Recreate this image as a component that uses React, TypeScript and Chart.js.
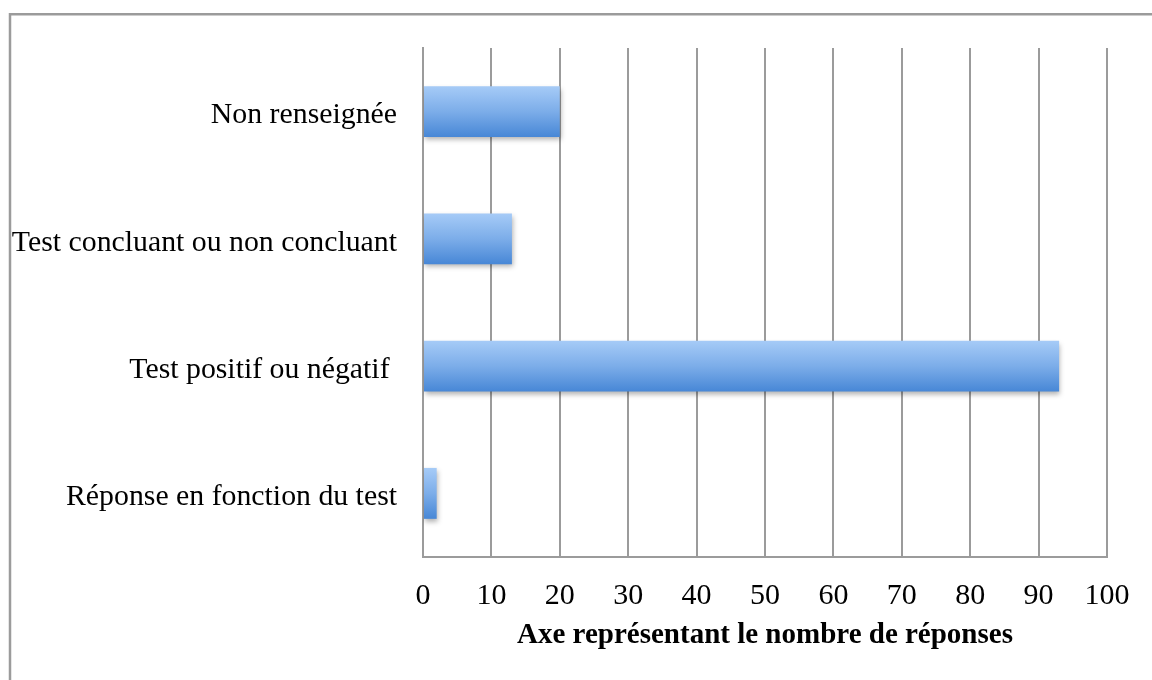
import React, { useEffect, useRef } from "react";
import { Chart, registerables } from "chart.js";

Chart.register(...registerables);

const categories = [
  "Non renseignée",
  "Test concluant ou non concluant",
  "Test positif ou négatif ",
  "Réponse en fonction du test",
];
const responses = [20, 13, 93, 2];
const xTicks = [0, 10, 20, 30, 40, 50, 60, 70, 80, 90, 100];
const xAxisTitle = "Axe représentant le nombre de réponses";

const GRID = "#9b9b9b";
const FONT = "'Liberation Serif', 'Times New Roman', serif";

const framePlugin = {
  id: "frame",
  beforeDraw(chart: any) {
    const ctx = chart.ctx;
    ctx.save();
    ctx.fillStyle = "#ffffff";
    ctx.fillRect(0, 0, chart.width, chart.height);
    ctx.strokeStyle = GRID;
    ctx.lineWidth = 2.5;
    ctx.beginPath();
    ctx.moveTo(10, chart.height + 10);
    ctx.lineTo(10, 14.25);
    ctx.lineTo(chart.width + 10, 14.25);
    ctx.stroke();
    ctx.restore();
  },
};

const shadowPlugin = {
  id: "barShadow",
  beforeDatasetsDraw(chart: any) {
    const ctx = chart.ctx;
    ctx.save();
    ctx.shadowColor = "rgba(0,0,0,0.3)";
    ctx.shadowBlur = 5;
    ctx.shadowOffsetX = 1;
    ctx.shadowOffsetY = 3;
  },
  afterDatasetsDraw(chart: any) {
    chart.ctx.restore();
  },
};

export default function App() {
  const ref = useRef<HTMLCanvasElement | null>(null);

  useEffect(() => {
    if (!ref.current) return;
    const chart = new Chart(ref.current, {
      type: "bar",
      data: {
        labels: categories,
        datasets: [
          {
            data: responses,
            borderWidth: 0,
            categoryPercentage: 0.8,
            barPercentage: 0.5,
            backgroundColor: (c: any) => {
              const ch = c.chart;
              const ys = ch.scales && ch.scales.y;
              if (!ys || c.dataIndex === undefined) return "#6fa3e6";
              const center = ys.getPixelForValue(c.dataIndex);
              const band = Math.abs(ys.getPixelForValue(1) - ys.getPixelForValue(0));
              const half = (band * 0.4) / 2;
              if (!isFinite(center) || !isFinite(half) || half <= 0) return "#6fa3e6";
              const g = ch.ctx.createLinearGradient(0, center - half, 0, center + half);
              g.addColorStop(0, "#a6cbf7");
              g.addColorStop(0.5, "#7cade9");
              g.addColorStop(1, "#4787d6");
              return g;
            },
          },
        ],
      },
      options: {
        indexAxis: "y",
        responsive: false,
        animation: false,
        layout: { padding: { top: 48, right: 45, left: 0, bottom: 0 } },
        plugins: {
          legend: { display: false },
          tooltip: { enabled: false },
        },
        scales: {
          x: {
            type: "linear",
            min: 0,
            max: 100,
            afterFit: (s: any) => {
              s.height = 123;
            },
            afterBuildTicks: (s: any) => {
              s.ticks = xTicks.map((v) => ({ value: v }));
            },
            ticks: {
              stepSize: 10,
              color: "#000",
              padding: 21,
              font: { family: FONT, size: 30 },
            },
            grid: {
              color: GRID,
              lineWidth: 2,
              drawTicks: false,
            },
            border: { color: GRID, width: 2 },
            title: {
              display: true,
              text: xAxisTitle,
              color: "#000",
              padding: { top: 0, bottom: 27 },
              font: { family: FONT, size: 29, weight: "bold" },
            },
          },
          y: {
            type: "category",
            afterFit: (s: any) => {
              s.width = 423;
            },
            ticks: {
              color: "#000",
              padding: 26,
              labelOffset: 4,
              font: { family: FONT, size: 29.8 },
            },
            grid: { display: false, drawTicks: false },
            border: { color: GRID, width: 2 },
          },
        },
      },
      plugins: [framePlugin, shadowPlugin],
    } as any);
    return () => chart.destroy();
  }, []);

  return (
    <div style={{ position: "fixed", left: 0, top: 0, width: 1152, height: 680, background: "#fff" }}>
      <canvas ref={ref} width={1152} height={680} style={{ display: "block" }} />
    </div>
  );
}
